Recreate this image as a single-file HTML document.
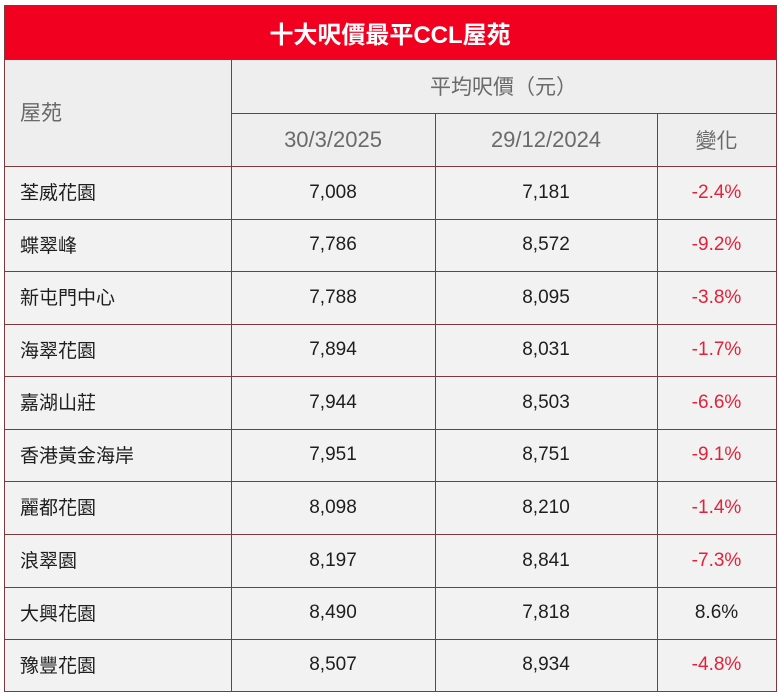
<!DOCTYPE html>
<html>
<head>
<meta charset="utf-8">
<style>
  html, body { margin:0; padding:0; background:#ffffff; }
  body { width:781px; height:695px; position:relative; overflow:hidden;
         font-family:"Liberation Sans","Noto Sans CJK TC",sans-serif; }
  .tbl { position:absolute; left:4px; top:5px; width:772px; height:686px;
         background:#f2f2f2; }
  .title { position:absolute; left:4px; top:5px; width:772px; height:54px;
           background:#f2001f; color:#fff; font-weight:bold; font-size:24px;
           display:flex; align-items:center; justify-content:center; }
  .hdr { position:absolute; background:#eeeeee; }
  .h { position:absolute; background:#7d3a3d; height:1px; }
  .v { position:absolute; background:#7d3a3d; width:1px; }
  .cell { position:absolute; display:flex; align-items:center; font-size:19px; color:#1e1e1e; box-sizing:border-box; }
  .c { justify-content:center; }
  .l { justify-content:flex-start; padding-left:16px; padding-bottom:2px; }
  .hc { color:#6a6a6a; }
  .neg { color:#e2213a; }
</style>
</head>
<body>
<div class="tbl"></div>
<div class="hdr" style="left:4px;top:59px;width:772px;height:107px;"></div>
<div class="title">十大呎價最平CCL屋苑</div>

<!-- header text -->
<div class="cell l hc" style="left:4px;top:59px;width:227px;height:107px;font-size:21px;">屋苑</div>
<div class="cell c hc" style="left:231px;top:59px;width:545px;height:54px;font-size:21px;">平均呎價（元）</div>
<div class="cell c hc" style="left:231px;top:113px;width:204px;height:53px;font-size:22px;">30/3/2025</div>
<div class="cell c hc" style="left:435px;top:113px;width:222px;height:53px;font-size:22px;">29/12/2024</div>
<div class="cell c hc" style="left:657px;top:113px;width:119px;height:53px;font-size:21px;">變化</div>

<!-- data rows -->
<div class="cell l" style="left:4px;top:166px;width:227px;height:53px;">荃威花園</div>
<div class="cell c" style="left:231px;top:166px;width:204px;height:53px;">7,008</div>
<div class="cell c" style="left:435px;top:166px;width:222px;height:53px;">7,181</div>
<div class="cell c neg" style="left:657px;top:166px;width:119px;height:53px;">-2.4%</div>

<div class="cell l" style="left:4px;top:219px;width:227px;height:52px;">蝶翠峰</div>
<div class="cell c" style="left:231px;top:219px;width:204px;height:52px;">7,786</div>
<div class="cell c" style="left:435px;top:219px;width:222px;height:52px;">8,572</div>
<div class="cell c neg" style="left:657px;top:219px;width:119px;height:52px;">-9.2%</div>

<div class="cell l" style="left:4px;top:271px;width:227px;height:53px;">新屯門中心</div>
<div class="cell c" style="left:231px;top:271px;width:204px;height:53px;">7,788</div>
<div class="cell c" style="left:435px;top:271px;width:222px;height:53px;">8,095</div>
<div class="cell c neg" style="left:657px;top:271px;width:119px;height:53px;">-3.8%</div>

<div class="cell l" style="left:4px;top:324px;width:227px;height:52px;">海翠花園</div>
<div class="cell c" style="left:231px;top:324px;width:204px;height:52px;">7,894</div>
<div class="cell c" style="left:435px;top:324px;width:222px;height:52px;">8,031</div>
<div class="cell c neg" style="left:657px;top:324px;width:119px;height:52px;">-1.7%</div>

<div class="cell l" style="left:4px;top:376px;width:227px;height:53px;">嘉湖山莊</div>
<div class="cell c" style="left:231px;top:376px;width:204px;height:53px;">7,944</div>
<div class="cell c" style="left:435px;top:376px;width:222px;height:53px;">8,503</div>
<div class="cell c neg" style="left:657px;top:376px;width:119px;height:53px;">-6.6%</div>

<div class="cell l" style="left:4px;top:429px;width:227px;height:52px;">香港黃金海岸</div>
<div class="cell c" style="left:231px;top:429px;width:204px;height:52px;">7,951</div>
<div class="cell c" style="left:435px;top:429px;width:222px;height:52px;">8,751</div>
<div class="cell c neg" style="left:657px;top:429px;width:119px;height:52px;">-9.1%</div>

<div class="cell l" style="left:4px;top:481px;width:227px;height:53px;">麗都花園</div>
<div class="cell c" style="left:231px;top:481px;width:204px;height:53px;">8,098</div>
<div class="cell c" style="left:435px;top:481px;width:222px;height:53px;">8,210</div>
<div class="cell c neg" style="left:657px;top:481px;width:119px;height:53px;">-1.4%</div>

<div class="cell l" style="left:4px;top:534px;width:227px;height:53px;">浪翠園</div>
<div class="cell c" style="left:231px;top:534px;width:204px;height:53px;">8,197</div>
<div class="cell c" style="left:435px;top:534px;width:222px;height:53px;">8,841</div>
<div class="cell c neg" style="left:657px;top:534px;width:119px;height:53px;">-7.3%</div>

<div class="cell l" style="left:4px;top:587px;width:227px;height:52px;">大興花園</div>
<div class="cell c" style="left:231px;top:587px;width:204px;height:52px;">8,490</div>
<div class="cell c" style="left:435px;top:587px;width:222px;height:52px;">7,818</div>
<div class="cell c" style="left:657px;top:587px;width:119px;height:52px;">8.6%</div>

<div class="cell l" style="left:4px;top:639px;width:227px;height:52px;">豫豐花園</div>
<div class="cell c" style="left:231px;top:639px;width:204px;height:52px;">8,507</div>
<div class="cell c" style="left:435px;top:639px;width:222px;height:52px;">8,934</div>
<div class="cell c neg" style="left:657px;top:639px;width:119px;height:52px;">-4.8%</div>

<!-- grid lines -->
<div class="h" style="left:4px;top:5px;width:772px;"></div>
<div class="h" style="left:4px;top:59px;width:772px;"></div>
<div class="h" style="left:231px;top:113px;width:545px;"></div>
<div class="h" style="left:4px;top:166px;width:772px;"></div>
<div class="h" style="left:4px;top:219px;width:772px;"></div>
<div class="h" style="left:4px;top:271px;width:772px;"></div>
<div class="h" style="left:4px;top:324px;width:772px;"></div>
<div class="h" style="left:4px;top:376px;width:772px;"></div>
<div class="h" style="left:4px;top:429px;width:772px;"></div>
<div class="h" style="left:4px;top:481px;width:772px;"></div>
<div class="h" style="left:4px;top:534px;width:772px;"></div>
<div class="h" style="left:4px;top:587px;width:772px;"></div>
<div class="h" style="left:4px;top:639px;width:772px;"></div>
<div class="h" style="left:4px;top:691px;width:773px;"></div>

<div class="v" style="left:4px;top:5px;height:687px;"></div>
<div class="v" style="left:776px;top:5px;height:687px;"></div>
<div class="v" style="left:231px;top:59px;height:632px;"></div>
<div class="v" style="left:435px;top:113px;height:578px;"></div>
<div class="v" style="left:657px;top:113px;height:578px;"></div>
</body>
</html>
